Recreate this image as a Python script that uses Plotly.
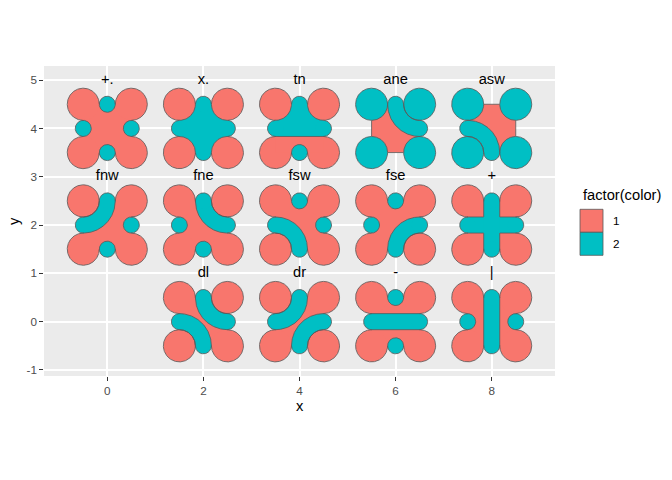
import numpy as np
import plotly.graph_objects as go

# tile data: type, position
tile_type = ["+.", "x.", "tn", "ane", "asw",
             "fnw", "fne", "fsw", "fse", "+",
             "dl", "dr", "-", "|"]
tile_x = [0, 2, 4, 6, 8, 0, 2, 4, 6, 8, 2, 4, 6, 8]
tile_y = [4, 4, 4, 4, 4, 2, 2, 2, 2, 2, 0, 0, 0, 0]

color_levels = ["1", "2"]
fill_colors = ["#F8766D", "#00BFC4"]
edge_color = "#595959"

x_ticks = [0, 2, 4, 6, 8]
y_ticks = [-1, 0, 1, 2, 3, 4, 5]

H = 0.5        # half side of a tile
RC = 1 / 3     # corner circle radius
RM = 1 / 6     # mid-edge circle radius
STEP = 0.005   # outline sampling step
RED, TEAL = 0, 1

CORNERS = {"tl": (-H, H), "tr": (H, H), "bl": (-H, -H), "br": (H, -H)}
MIDS = {"n": (0, H), "s": (0, -H), "e": (H, 0), "w": (-H, 0)}
INWARD = {"tl": (1, -1), "tr": (-1, -1), "bl": (1, 1), "br": (-1, 1)}


def circle(c, r, col, grp):
    return ("circle", (c[0], c[1], r), col, grp)


def rect(x0, x1, y0, y1, col, grp):
    return ("rect", (x0, x1, y0, y1), col, grp)


def band(k, col, grp):
    c, s = CORNERS[k], INWARD[k]
    return ("band", (c[0], c[1], s[0], s[1]), col, grp)


def tile_prims(tt):
    sq = lambda col, grp: rect(-H, H, -H, H, col, grp)
    corners = lambda col, grp: [circle(CORNERS[k], RC, col, grp) for k in CORNERS]
    mids = lambda keys, col, grp: [circle(MIDS[k], RM, col, grp) for k in keys]
    if tt == "+.":
        return [sq(RED, 0)] + corners(RED, 0) + mids("nsew", TEAL, 1)
    if tt == "x.":
        return [sq(TEAL, 1)] + corners(RED, 0) + mids("nsew", TEAL, 1)
    if tt == "tn":
        return ([sq(TEAL, 1)] + mids("new", TEAL, 1) + corners(RED, 0)
                + [rect(-H, H, -H, -RM, RED, 0)] + mids("s", TEAL, 1))
    if tt in ("ane", "asw"):
        k, caps = ("tr", "ne") if tt == "ane" else ("bl", "sw")
        cs = [circle(CORNERS[c], RC, TEAL, 2 + i) for i, c in enumerate(CORNERS)]
        return [sq(RED, 0)] + cs + [band(k, TEAL, 1)] + mids(caps, TEAL, 1)
    bands = {"fnw": ["tl"], "fne": ["tr"], "fsw": ["bl"], "fse": ["br"],
             "dl": ["tr", "bl"], "dr": ["tl", "br"]}.get(tt, [])
    bars = {"+": "hv", "-": "h", "|": "v"}.get(tt, "")
    p = [sq(RED, 0)] + corners(RED, 0) + [band(k, TEAL, 1) for k in bands]
    if "h" in bars:
        p.append(rect(-H, H, -RM, RM, TEAL, 1))
    if "v" in bars:
        p.append(rect(-RM, RM, -H, H, TEAL, 1))
    return p + mids("nsew", TEAL, 1)


def contains(pr, px, py):
    kind, par = pr[0], pr[1]
    if kind == "circle":
        cx, cy, r = par
        return (px - cx) ** 2 + (py - cy) ** 2 <= r * r
    if kind == "rect":
        x0, x1, y0, y1 = par
        return (px >= x0) & (px <= x1) & (py >= y0) & (py <= y1)
    cx, cy, sx, sy = par
    d = np.hypot(px - cx, py - cy)
    return (d >= RC) & (d <= 2 * RC) & ((px - cx) * sx >= 0) & ((py - cy) * sy >= 0)


def polygon(pr):
    kind, par = pr[0], pr[1]
    if kind == "circle":
        cx, cy, r = par
        t = np.linspace(0, 2 * np.pi, 121)
        return cx + r * np.cos(t), cy + r * np.sin(t)
    if kind == "rect":
        x0, x1, y0, y1 = par
        return np.array([x0, x1, x1, x0, x0]), np.array([y0, y0, y1, y1, y0])
    cx, cy, sx, sy = par
    t = np.linspace(0, np.pi / 2, 61)
    xs = np.concatenate([cx + 2 * RC * sx * np.cos(t), cx + RC * sx * np.cos(t[::-1])])
    ys = np.concatenate([cy + 2 * RC * sy * np.sin(t), cy + RC * sy * np.sin(t[::-1])])
    return np.append(xs, xs[0]), np.append(ys, ys[0])


def boundary(pr):
    kind, par = pr[0], pr[1]
    out = []
    if kind == "circle":
        cx, cy, r = par
        t = np.linspace(0, 2 * np.pi, max(40, int(2 * np.pi * r / STEP)))
        out.append((cx + r * np.cos(t), cy + r * np.sin(t), np.cos(t), np.sin(t)))
    elif kind == "rect":
        x0, x1, y0, y1 = par
        for ax, ay, bx, by, nx, ny in [(x0, y0, x1, y0, 0, 1), (x1, y0, x1, y1, 1, 0),
                                       (x1, y1, x0, y1, 0, 1), (x0, y1, x0, y0, 1, 0)]:
            n = max(10, int(np.hypot(bx - ax, by - ay) / STEP))
            s = np.linspace(0, 1, n)
            out.append((ax + (bx - ax) * s, ay + (by - ay) * s, np.full(n, nx), np.full(n, ny)))
    else:
        cx, cy, sx, sy = par
        for r in (RC, 2 * RC):
            t = np.linspace(0, np.pi / 2, max(20, int(np.pi / 2 * r / STEP)))
            nx, ny = sx * np.cos(t), sy * np.sin(t)
            out.append((cx + r * nx, cy + r * ny, nx, ny))
        n = max(10, int(RC / STEP))
        s = np.linspace(RC, 2 * RC, n)
        out.append((cx + sx * s, np.full(n, cy), np.zeros(n), np.ones(n)))
        out.append((np.full(n, cx), cy + sy * s, np.ones(n), np.zeros(n)))
    return out


def top_group(prims, px, py):
    g = np.full(px.shape, -1)
    for pr in prims:
        g[contains(pr, px, py)] = pr[3]
    return g


fig = go.Figure()
edge_x, edge_y = [], []
eps = 1e-4

for tt, tx, ty in zip(tile_type, tile_x, tile_y):
    prims = tile_prims(tt)
    for pr in prims:
        xs, ys = polygon(pr)
        fig.add_trace(go.Scatter(
            x=xs + tx, y=ys + ty, mode="lines", fill="toself",
            fillcolor=fill_colors[pr[2]], line=dict(width=0),
            hoverinfo="skip", showlegend=False))
    for pr in prims:
        for bx, by, nx, ny in boundary(pr):
            g1 = top_group(prims, bx + eps * nx, by + eps * ny)
            g2 = top_group(prims, bx - eps * nx, by - eps * ny)
            vis = g1 != g2
            prev = False
            for i in range(len(bx)):
                if vis[i]:
                    edge_x.append(bx[i] + tx)
                    edge_y.append(by[i] + ty)
                elif prev:
                    edge_x.append(None)
                    edge_y.append(None)
                prev = vis[i]
            if prev:
                edge_x.append(None)
                edge_y.append(None)

fig.add_trace(go.Scatter(
    x=edge_x, y=edge_y, mode="lines", connectgaps=False,
    line=dict(color=edge_color, width=0.8), hoverinfo="skip", showlegend=False))

# tile names above each tile
fig.add_trace(go.Scatter(
    x=tile_x, y=[v + 1 for v in tile_y], text=tile_type, mode="text",
    textposition="middle center",
    textfont=dict(family="Liberation Sans", size=14.7, color="black"),
    hoverinfo="skip", showlegend=False))

# panel geometry in pixels
PL, PR, PT, PB = 44, 555, 66, 376
W, Hh = PR - PL, PB - PT


def px_x(p):
    return (p - PL) / W


def px_y(p):
    return (PB - p) / Hh


# legend drawn by hand, ggplot style
fig.add_annotation(x=px_x(580.5), y=px_y(195), xref="paper", yref="paper",
                   text="factor(color)", showarrow=False, xanchor="left", yanchor="middle",
                   font=dict(family="Liberation Sans", size=14.7, color="black"))
for i, (lab, col) in enumerate(zip(color_levels, fill_colors)):
    top = 209.3 + i * 23
    fig.add_shape(type="rect", xref="paper", yref="paper",
                  x0=px_x(580), x1=px_x(603), y0=px_y(top + 23), y1=px_y(top),
                  fillcolor=col, line=dict(color=edge_color, width=0.8))
    fig.add_annotation(x=px_x(611), y=px_y(top + 11.5), xref="paper", yref="paper",
                       text=lab, showarrow=False, xanchor="left", yanchor="middle",
                       font=dict(family="Liberation Sans", size=11.7, color="black"))

fig.add_annotation(x=0.5, y=0, xref="paper", yref="paper", text="x", showarrow=False,
                   yanchor="middle", yshift=-30,
                   font=dict(family="Liberation Sans", size=14.7, color="black"))
fig.add_annotation(x=0, y=0.5, xref="paper", yref="paper", text="y", showarrow=False,
                   xanchor="center", xshift=-30, textangle=-90,
                   font=dict(family="Liberation Sans", size=14.7, color="black"))

axis_common = dict(showgrid=True, gridcolor="white", gridwidth=1.5, zeroline=False,
                   showline=False, ticks="outside", ticklen=3.7, tickwidth=1.1,
                   tickcolor="#333333",
                   tickfont=dict(family="Liberation Sans", size=11.7, color="#4D4D4D"))

fig.update_layout(
    width=672, height=480,
    margin=dict(l=PL, r=672 - PR, t=PT, b=480 - PB),
    paper_bgcolor="white", plot_bgcolor="#EBEBEB",
    showlegend=False,
    xaxis=dict(range=[-1.317, 9.317], tickvals=x_ticks,
               ticktext=[str(v) for v in x_ticks], **axis_common),
    yaxis=dict(range=[-1.125, 5.292], tickvals=y_ticks,
               ticktext=[str(v) for v in y_ticks], **axis_common),
)

# drop the browser's default page margin so the figure sits at the window corner
fig.write_html("out.html", config={"displayModeBar": False},
               post_script="document.body.style.margin='0px';")
